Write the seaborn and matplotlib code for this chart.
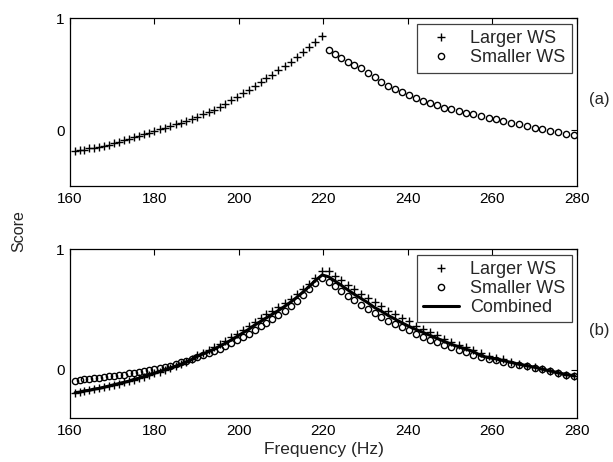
import matplotlib
matplotlib.use("Agg")
import matplotlib.pyplot as plt
import seaborn as sns
import pandas as pd

sns.set_style("white")
plt.rcParams['font.family'] = ['Liberation Sans', 'DejaVu Sans']

# frequency grid (Hz)
freq = [161.2, 162.3, 163.4, 164.6, 165.7, 166.8, 168.0, 169.2, 170.3, 171.5,
        172.7, 173.9, 175.1, 176.3, 177.5, 178.7, 179.9, 181.2, 182.4, 183.7,
        185.0, 186.2, 187.5, 188.8, 190.1, 191.4, 192.8, 194.1, 195.4, 196.8,
        198.1, 199.5, 200.9, 202.3, 203.7, 205.1, 206.5, 207.9, 209.3, 210.8,
        212.2, 213.7, 215.2, 216.6, 218.1, 219.7, 221.2, 222.7, 224.2, 225.8,
        227.3, 228.9, 230.5, 232.1, 233.7, 235.3, 236.9, 238.5, 240.2, 241.8,
        243.5, 245.2, 246.9, 248.6, 250.3, 252.0, 253.8, 255.5, 257.3, 259.1,
        260.8, 262.6, 264.5, 266.3, 268.1, 270.0, 271.8, 273.7, 275.6, 277.5,
        279.4]
split = 46  # first index above 220 Hz

# panel (a)
larger_a = [-0.19, -0.18, -0.175, -0.165, -0.16, -0.15, -0.14, -0.13, -0.12, -0.105,
            -0.09, -0.08, -0.065, -0.05, -0.04, -0.025, -0.01, 0.005, 0.02, 0.035,
            0.05, 0.065, 0.08, 0.10, 0.12, 0.14, 0.16, 0.18, 0.205, 0.235,
            0.265, 0.295, 0.33, 0.36, 0.395, 0.43, 0.46, 0.49, 0.535, 0.57,
            0.61, 0.65, 0.695, 0.74, 0.79, 0.84]
smaller_a = [0.715, 0.68, 0.645, 0.61, 0.58, 0.55, 0.51, 0.47, 0.43, 0.395,
             0.365, 0.335, 0.31, 0.285, 0.26, 0.24, 0.22, 0.20, 0.185, 0.17,
             0.155, 0.14, 0.125, 0.11, 0.095, 0.08, 0.065, 0.05, 0.035, 0.02,
             0.01, -0.005, -0.02, -0.035, -0.045]

# panel (b)
larger_b = [-0.19, -0.185, -0.175, -0.17, -0.16, -0.155, -0.145, -0.135, -0.125, -0.115,
            -0.105, -0.095, -0.085, -0.07, -0.06, -0.045, -0.03, -0.015, 0.0, 0.015,
            0.03, 0.045, 0.065, 0.085, 0.12, 0.14, 0.165, 0.19, 0.215, 0.24,
            0.27, 0.30, 0.33, 0.365, 0.395, 0.43, 0.46, 0.49, 0.52, 0.555,
            0.59, 0.63, 0.67, 0.71, 0.76, 0.82, 0.82, 0.78, 0.74, 0.70,
            0.665, 0.63, 0.595, 0.56, 0.525, 0.49, 0.46, 0.43, 0.40, 0.36,
            0.335, 0.31, 0.285, 0.255, 0.23, 0.205, 0.185, 0.16, 0.135, 0.115,
            0.10, 0.085, 0.065, 0.045, 0.035, 0.02, 0.005, -0.01, -0.025, -0.04,
            -0.05]
smaller_b = [-0.09, -0.085, -0.08, -0.075, -0.07, -0.065, -0.06, -0.055, -0.05, -0.045,
             -0.04, -0.03, -0.025, -0.015, -0.01, 0.0, 0.005, 0.015, 0.025, 0.035,
             0.045, 0.06, 0.07, 0.09, 0.105, 0.12, 0.14, 0.155, 0.175, 0.195,
             0.22, 0.245, 0.275, 0.30, 0.33, 0.36, 0.39, 0.42, 0.455, 0.49,
             0.53, 0.57, 0.62, 0.665, 0.715, 0.76, 0.73, 0.69, 0.65, 0.61,
             0.575, 0.54, 0.505, 0.47, 0.44, 0.40, 0.375, 0.35, 0.325, 0.30,
             0.275, 0.25, 0.23, 0.205, 0.185, 0.165, 0.145, 0.125, 0.105, 0.09,
             0.08, 0.065, 0.05, 0.04, 0.03, 0.015, 0.005, -0.01, -0.025, -0.04,
             -0.05]
combined_b = [-0.19, -0.185, -0.175, -0.17, -0.16, -0.155, -0.145, -0.135, -0.125, -0.115,
              -0.105, -0.095, -0.08, -0.07, -0.055, -0.045, -0.03, -0.015, 0.0, 0.015,
              0.03, 0.045, 0.065, 0.085, 0.11, 0.13, 0.15, 0.17, 0.195, 0.22,
              0.245, 0.275, 0.305, 0.335, 0.37, 0.40, 0.43, 0.46, 0.49, 0.525,
              0.56, 0.60, 0.645, 0.69, 0.74, 0.785, 0.77, 0.735, 0.70, 0.66,
              0.625, 0.59, 0.555, 0.515, 0.485, 0.45, 0.42, 0.39, 0.36, 0.335,
              0.31, 0.285, 0.26, 0.235, 0.21, 0.19, 0.17, 0.15, 0.115, 0.10,
              0.09, 0.075, 0.06, 0.045, 0.035, 0.02, 0.005, -0.01, -0.025, -0.04,
              -0.05]

fig = plt.figure(figsize=(6.13, 4.62), dpi=100)
ax1 = fig.add_axes([0.1142, 0.5974, 0.827, 0.3636])
ax2 = fig.add_axes([0.1142, 0.0952, 0.827, 0.3658])

plus_kw = dict(marker='+', linestyle='', color='black', markersize=5.5,
               markeredgecolor='black', markeredgewidth=1.0)
circ_kw = dict(marker='o', linestyle='', color='black', markersize=4.5,
               markerfacecolor='none', markeredgecolor='black', markeredgewidth=1.0)

sns.lineplot(x=freq[:split], y=larger_a, ax=ax1, label='Larger WS', **plus_kw)
sns.lineplot(x=freq[split:], y=smaller_a, ax=ax1, label='Smaller WS', **circ_kw)

sns.lineplot(x=freq, y=larger_b, ax=ax2, label='Larger WS', **plus_kw)
sns.lineplot(x=freq, y=smaller_b, ax=ax2, label='Smaller WS', **circ_kw)
sns.lineplot(x=freq, y=combined_b, ax=ax2, label='Combined', color='black', linewidth=2.2)

for ax, ylo in [(ax1, -0.5), (ax2, -0.4)]:
    ax.set_xlim(160, 280)
    ax.set_ylim(ylo, 1)
    ax.set_xticks([160, 180, 200, 220, 240, 260, 280])
    ax.set_yticks([0, 1])
    ax.tick_params(direction='in', top=True, right=True, length=4, width=0.8,
                   labelsize=11, colors='black', pad=4)
    for s in ax.spines.values():
        s.set_color('black')
        s.set_linewidth(0.9)
    ax.set_xlabel('')
    ax.set_ylabel('')
    leg = ax.legend(loc='upper right', bbox_to_anchor=(0.99, 0.964), borderaxespad=0,
                    fontsize=13, fancybox=False, framealpha=1, edgecolor='#404040',
                    labelspacing=0.1, handlelength=2.0, handletextpad=0.6,
                    borderpad=0.35)
    leg.get_frame().set_linewidth(0.9)

ax2.set_xlabel('Frequency (Hz)', fontsize=12.5, labelpad=3)
fig.text(0.03, 0.5, 'Score', rotation=90, ha='center', va='center', fontsize=11.5)
fig.text(0.978, 0.785, '(a)', ha='center', va='center', fontsize=12)
fig.text(0.978, 0.285, '(b)', ha='center', va='center', fontsize=12)

fig.savefig('out.png', dpi=100)
